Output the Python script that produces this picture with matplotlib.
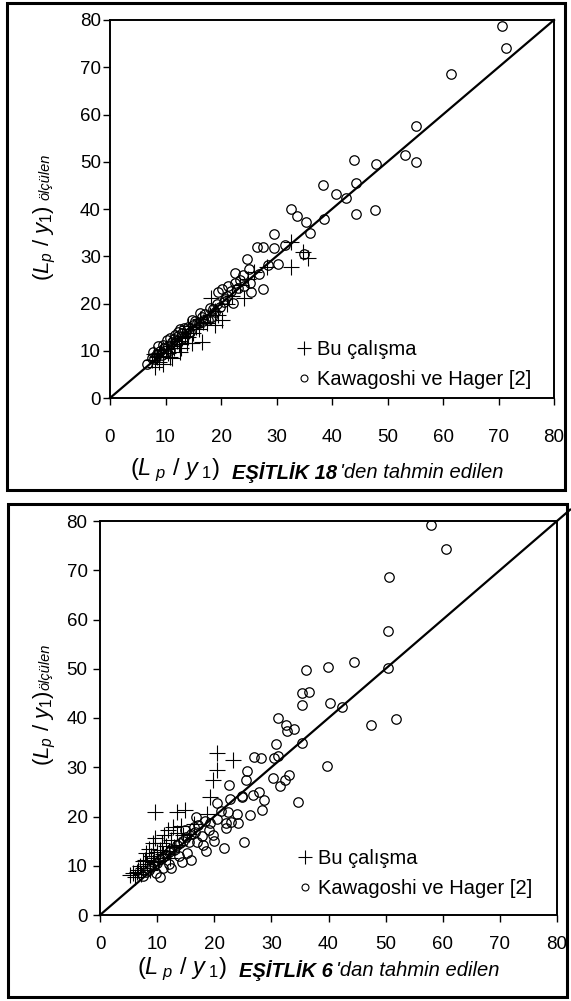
import matplotlib
matplotlib.use("Agg")
import matplotlib.pyplot as plt
from matplotlib.lines import Line2D
from matplotlib.patches import Rectangle

plt.rcParams['font.family'] = ['Liberation Sans', 'DejaVu Sans']
plt.rcParams['mathtext.fontset'] = 'custom'
plt.rcParams['mathtext.rm'] = 'Liberation Sans'
plt.rcParams['mathtext.it'] = 'Liberation Sans:italic'
plt.rcParams['mathtext.bf'] = 'Liberation Sans:bold'

# ---------------- data: top panel (EŞİTLİK 18) ----------------
kh18_x = [70.6, 71.4, 61.4, 55.1, 53.1, 55.2, 48.0, 44.0, 44.3, 38.3, 40.7, 42.6, 44.3, 47.8,
          32.6, 33.7, 35.3, 36.1, 38.5, 29.6, 26.5, 27.6, 29.5, 31.6, 35.0, 24.6, 25.0, 28.4,
          30.3, 22.5, 26.9, 27.6, 25.2, 22.2, 24.1, 25.4, 22.6, 21.3, 20.2, 19.4, 18.0, 19.8,
          18.9, 18.3, 16.5, 15.6, 14.1, 12.6, 11.7, 10.2, 8.7, 7.8, 6.6,
          7.5, 8.0, 8.5, 9.0, 9.3, 9.8, 10.5, 10.8, 11.2, 11.5, 12.0, 12.3, 13.0, 13.4, 13.8,
          14.5, 15.0, 15.3, 16.0, 16.8, 17.2, 17.6, 18.5, 19.2, 20.5, 21.0, 21.8, 23.0, 16.2,
          14.8, 13.3, 12.2, 10.9, 9.5, 20.8, 23.5, 24.0]
kh18_y = [78.8, 74.0, 68.6, 57.6, 51.4, 49.9, 49.5, 50.4, 45.4, 45.0, 43.1, 42.3, 38.9, 39.8,
          40.1, 38.6, 37.3, 35.0, 37.9, 34.8, 31.9, 32.0, 31.8, 32.4, 30.4, 29.4, 27.3, 28.1,
          28.4, 26.4, 26.2, 23.0, 24.4, 20.2, 23.6, 22.5, 24.4, 23.8, 23.1, 22.4, 19.0, 19.3,
          18.3, 17.2, 17.2, 15.8, 15.1, 14.7, 13.3, 12.3, 10.9, 9.8, 7.3,
          8.5, 8.2, 9.3, 10.0, 9.1, 10.5, 11.0, 10.2, 11.8, 12.5, 12.0, 13.2, 13.8, 12.9, 14.4,
          14.0, 15.4, 16.3, 15.9, 16.4, 17.8, 16.6, 18.8, 19.9, 20.3, 21.5, 22.6, 23.3, 18.0,
          16.5, 14.9, 13.9, 12.6, 11.3, 21.0, 25.0, 26.0]
bu18_x = [32.7, 35.7, 32.7, 34.7, 28.2, 18.2, 24.1, 20.1, 18.9, 16.5, 14.7, 12.6, 11.1, 9.6, 8.1,
          7.5, 8.5, 9.0, 9.5, 10.0, 10.4, 11.0, 11.5, 12.0, 12.5, 13.0, 13.5, 14.0, 14.5, 15.0,
          15.5, 16.0, 16.8, 17.5, 18.0, 19.0, 19.5, 21.0, 22.0, 23.5, 10.8, 12.8, 8.8, 9.2, 13.8,
          7.9, 14.0, 16.3, 24.8, 26.0]
bu18_y = [33.1, 29.6, 27.8, 30.8, 27.8, 21.1, 21.1, 16.5, 15.4, 11.9, 11.6, 9.8, 8.4, 7.3, 6.6,
          8.0, 8.6, 9.5, 8.9, 10.3, 9.6, 11.0, 10.5, 12.0, 11.5, 12.6, 13.2, 13.0, 14.5, 13.8,
          15.0, 14.6, 16.0, 15.8, 17.6, 18.5, 17.5, 20.0, 21.5, 24.0, 8.6, 10.6, 7.6, 10.2, 11.6,
          9.4, 15.2, 16.8, 25.2, 26.6]

# ---------------- data: bottom panel (EŞİTLİK 6) ----------------
kh6_x = [57.9, 60.5, 50.6, 50.5, 50.5, 44.5, 39.9, 36.1, 35.4, 36.6, 35.4, 40.3, 42.3, 47.4, 51.8,
         31.2, 32.6, 34.0, 32.7, 35.3, 30.8, 39.7, 27.0, 28.1, 30.5, 31.1, 25.8, 25.6, 22.6, 30.2,
         31.5, 33.0, 32.3, 34.6, 24.9, 26.7, 27.8, 28.7, 28.4, 26.2, 22.8, 20.5, 25.2, 21.7, 19.2,
         19.0, 19.8, 16.6, 18.1, 16.0, 14.3, 12.5, 10.5, 22.4, 23.9, 24.8, 23.0, 24.2, 22.1, 22.0,
         7.5, 8.0, 8.5, 9.0, 9.5, 10.0, 10.5, 11.0, 11.5, 12.0, 12.5, 13.0, 13.5, 14.0, 14.5, 15.0,
         15.5, 16.0, 16.5, 17.2, 17.8, 18.3, 15.2, 13.8, 12.0, 11.0, 9.8, 17.0, 18.5, 20.0, 20.5,
         21.2, 16.8, 14.8]
kh6_y = [79.1, 74.3, 68.7, 57.7, 50.2, 51.4, 50.4, 49.7, 45.0, 45.3, 42.6, 43.0, 42.2, 38.6, 39.7,
         40.1, 38.6, 37.8, 37.4, 34.9, 34.7, 30.3, 32.0, 31.9, 31.9, 32.3, 29.3, 27.4, 26.3, 27.8,
         26.2, 28.4, 27.4, 22.9, 24.2, 24.4, 25.0, 23.4, 21.3, 20.4, 23.5, 22.7, 14.9, 13.7, 18.6,
         17.2, 16.2, 16.9, 14.2, 11.2, 10.8, 9.5, 7.8, 21.0, 20.6, 24.0, 18.9, 18.6, 17.6, 18.6,
         8.0, 8.8, 9.2, 9.8, 10.2, 10.5, 11.3, 11.8, 12.1, 12.7, 13.5, 13.2, 14.2, 14.6, 15.0, 15.8,
         14.8, 16.4, 17.8, 18.2, 16.0, 19.1, 12.6, 12.0, 10.4, 9.5, 8.6, 14.8, 13.0, 15.0, 19.5,
         21.2, 20.0, 17.2]
bu6_x = [20.4, 23.3, 20.4, 19.8, 19.2, 18.7, 9.6, 13.4, 14.9, 11.9, 13.4, 9.6, 9.3, 10.8, 14.6,
         7.9, 7.6, 5.2, 6.1, 6.7, 8.0, 8.5, 9.0, 9.5, 10.0, 10.5, 11.0, 11.5, 12.0, 12.5, 13.0,
         7.0, 7.5, 8.2, 8.8, 6.5, 7.2, 9.2, 10.2, 11.2, 12.8, 14.2, 15.5, 12.2, 16.5, 5.8, 13.8]
bu6_y = [32.8, 31.5, 29.4, 27.4, 23.9, 20.6, 21.0, 21.0, 21.3, 17.3, 16.6, 15.6, 14.6, 14.6, 16.2,
         11.2, 10.9, 8.1, 7.8, 9.1, 12.5, 13.5, 12.0, 11.5, 12.8, 13.2, 12.3, 14.0, 13.0, 15.3, 13.8,
         10.0, 9.5, 10.4, 9.2, 8.8, 8.3, 10.8, 11.0, 16.2, 17.8, 18.0, 16.5, 11.5, 18.5, 8.6, 14.2]

ticks = [0, 10, 20, 30, 40, 50, 60, 70, 80]
legend_labels = ["Bu çalışma", "Kawagoshi ve Hager [2]"]

W, H = 571, 1001
fig = plt.figure(figsize=(W / 100, H / 100), dpi=100)


def fx(px):
    return px / W


def fy(py):
    return 1 - py / H


def panel(rect, kx, ky, bx, by, line_end, xpad, ypad, leg_anchor):
    ax = fig.add_axes(rect)
    ax.plot([0, line_end], [0, line_end], color='black', lw=1.6, clip_on=False, zorder=3)
    ax.plot(kx, ky, linestyle='none', marker='o', ms=6.8, mfc='none', mec='black', mew=0.9,
            clip_on=False, zorder=2)
    ax.plot(bx, by, linestyle='none', marker='+', ms=12, mec='black', mew=0.8,
            clip_on=False, zorder=2)
    ax.set_xlim(0, 80)
    ax.set_ylim(0, 80)
    ax.set_xticks(ticks)
    ax.set_yticks(ticks)
    ax.tick_params(direction='out', length=5, width=1, labelsize=13.5)
    ax.tick_params(axis='x', pad=xpad)
    ax.tick_params(axis='y', pad=ypad)
    for s in ax.spines.values():
        s.set_linewidth(1.4)
    handles = [Line2D([], [], linestyle='none', marker='+', ms=10, mec='black', mew=0.8),
               Line2D([], [], linestyle='none', marker='o', ms=5, mfc='none', mec='black', mew=0.8)]
    ax.legend(handles, legend_labels, loc='lower left', bbox_to_anchor=leg_anchor,
              frameon=False, fontsize=14.5, handlelength=0.6, handletextpad=0.35,
              labelspacing=0.55, borderaxespad=0.3)
    return ax


ax1 = panel([fx(110), fy(398), 444 / W, 378 / H], kh18_x, kh18_y, bu18_x, bu18_y, 80,
            17, 1.5, (0.392, -0.013))
ax2 = panel([fx(100), fy(915), 457 / W, 394 / H], kh6_x, kh6_y, bu6_x, bu6_y, 82.3,
            10, 4, (0.405, 0.008))

# outer frames
fig.patches.append(Rectangle((fx(7), fy(490)), (565 - 7) / W, (490 - 3) / H,
                             transform=fig.transFigure, fill=False, lw=2.2, color='black'))
fig.patches.append(Rectangle((fx(8), fy(997)), (567 - 8) / W, (997 - 504) / H,
                             transform=fig.transFigure, fill=False, lw=2.2, color='black'))

big = r"$\mathit{(L_p\ /\ y_1)}$"
bigx = r"$\mathit{(L_{\ p}\ /\ y_{\ 1})}$"

# y labels
fig.text(fx(45), fy(243), big, rotation=90, ha='center', va='center', fontsize=16)
fig.text(fx(45), fy(177), "ölçülen", rotation=90, ha='center', va='center', fontsize=10.5,
         style='italic')
fig.text(fx(45), fy(728), big, rotation=90, ha='center', va='center', fontsize=16)
fig.text(fx(45), fy(667), "ölçülen", rotation=90, ha='center', va='center', fontsize=10.5,
         style='italic')

# x labels
fig.text(fx(130), fy(470), bigx, ha='left', va='center', fontsize=17)
fig.text(fx(137), fy(969), bigx, ha='left', va='center', fontsize=17)

renderer = fig.canvas.get_renderer()
for x0, yv, bold, rest in [(232, 473, "EŞİTLİK 18", "'den tahmin edilen"),
                           (239, 971, "EŞİTLİK 6", "'dan tahmin edilen")]:
    t = fig.text(fx(x0), fy(yv), bold, ha='left', va='center', fontsize=14.5,
                 style='italic', weight='bold')
    bb = t.get_window_extent(renderer=renderer)
    fig.text((bb.x1 + 3) / W, fy(yv), rest, ha='left', va='center', fontsize=14.5,
             style='italic')

fig.savefig("out.png", dpi=100)
